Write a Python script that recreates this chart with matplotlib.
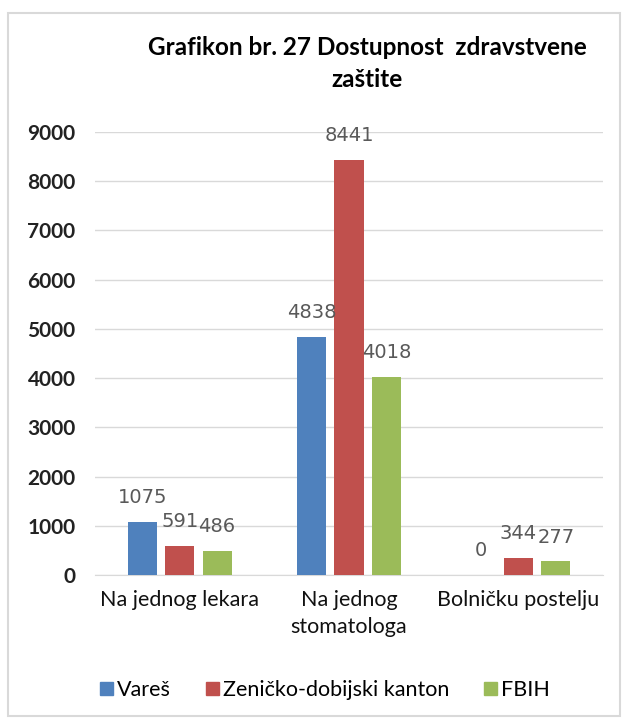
import matplotlib.pyplot as plt
import matplotlib.patches as mpatches
import numpy as np

categories = ["Na jednog lekara", "Na jednog\nstomatologa", "Bolničku postelju"]
series_names = ["Vareš", "Zeničko-dobijski kanton", "FBIH"]
vares = [1075, 4838, 0]
zdk = [591, 8441, 344]
fbih = [486, 4018, 277]
yticks = [0, 1000, 2000, 3000, 4000, 5000, 6000, 7000, 8000, 9000]

colors = ["#4F81BD", "#C0504D", "#9BBB59"]

plt.rcParams['font.family'] = ['Lato', 'DejaVu Sans']

fig = plt.figure(figsize=(6.26, 7.24), dpi=100)
# outer chart border
fig.patches.append(mpatches.Rectangle((8 / 626, 1 - 716 / 724), 612 / 626, 703 / 724,
                                      transform=fig.transFigure, fill=False,
                                      edgecolor="#d9d9d9", linewidth=1.5))

ax = fig.add_axes([95 / 626, 1 - 575 / 724, 508 / 626, 443 / 724])

x = np.arange(len(categories))
w = 0.172
step = 0.221
for i, (vals, name) in enumerate(zip([vares, zdk, fbih], series_names)):
    bars = ax.bar(x + (i - 1) * step, vals, w, color=colors[i], label=name, zorder=3)
    for b, v in zip(bars, vals):
        ax.annotate(str(v), (b.get_x() + b.get_width() / 2, v), xytext=(0, 17.5),
                    textcoords="offset points", ha="center", va="center",
                    fontsize=14, color="#595959", family="DejaVu Sans", zorder=4)

ax.set_xlim(-0.5, 2.5)
ax.set_ylim(0, 9000)
ax.set_yticks(yticks)
ax.set_yticklabels([str(t) for t in yticks], fontsize=15, fontweight="bold", color="#222222")
ax.set_xticks(x)
ax.set_xticklabels(categories, fontsize=15.5, color="#111111", linespacing=1.4)
ax.tick_params(axis="both", length=0)
ax.tick_params(axis="y", pad=14)
ax.tick_params(axis="x", pad=11)
ax.grid(axis="y", color="#d9d9d9", linewidth=1, zorder=0)
for s in ["top", "right", "left"]:
    ax.spines[s].set_visible(False)
ax.spines["bottom"].set_color("#d9d9d9")

fig.text(367 / 626, 1 - 63.5 / 724, "Grafikon br. 27 Dostupnost  zdravstvene\nzaštite",
         ha="center", va="center", fontsize=17.5, fontweight="bold", linespacing=1.5)

handles = [mpatches.Patch(color=c) for c in colors]
fig.legend(handles, series_names, loc="center", bbox_to_anchor=(325 / 626, 1 - 690 / 724),
           ncol=3, frameon=False, fontsize=15.5, handlelength=0.6, handleheight=0.6,
           handletextpad=0.2, columnspacing=1.6)

fig.savefig("out.png", dpi=100)
